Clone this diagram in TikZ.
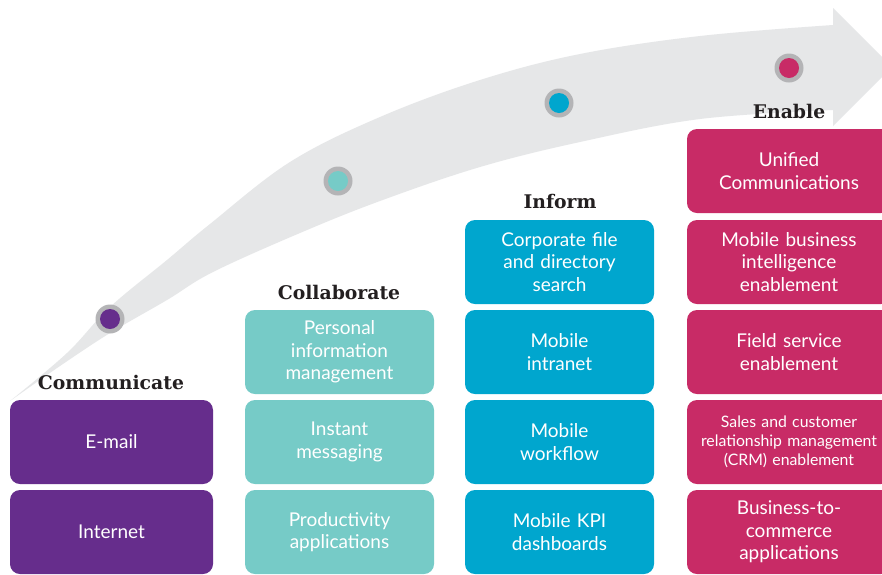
\documentclass[tikz,border=0pt]{standalone}
\usepackage{fontspec}
\setmainfont{Lato}
\newfontfamily\headfont{DejaVu Serif}
\definecolor{cpurple}{RGB}{102,45,140}
\definecolor{cteal}{RGB}{118,203,199}
\definecolor{cblue}{RGB}{0,166,206}
\definecolor{cmag}{RGB}{200,43,102}
\definecolor{bandgray}{RGB}{230,231,232}
\definecolor{ringgray}{RGB}{180,180,182}
\definecolor{headtxt}{RGB}{35,31,32}
\tikzset{
  box/.style={rounded corners=10pt, minimum height=84pt, inner sep=0pt,
    text=white, align=center, font=\fontsize{19}{22.5}\selectfont},
  c1/.style={box, fill=cpurple, minimum width=203pt, text width=200pt},
  c2/.style={box, fill=cteal, minimum width=189pt, text width=186pt},
  c3/.style={box, fill=cblue, minimum width=189pt, text width=186pt},
  c4/.style={box, fill=cmag, minimum width=204pt, text width=200pt},
  head/.style={anchor=base, text=headtxt, inner sep=0pt,
    font=\headfont\bfseries\fontsize{18.8}{22}\selectfont},
  ring/.style={circle, fill=ringgray, minimum size=29pt, inner sep=0pt},
  dotin/.style={circle, minimum size=20pt, inner sep=0pt}
}
\begin{document}
\begin{tikzpicture}[x=1pt,y=-1pt]
\useasboundingbox (0,0) rectangle (882,574);
\clip (0,0) rectangle (882,574);
\fill[white] (0,0) rectangle (882,574);
% band arrow
\fill[bandgray] plot[smooth, tension=0.6] coordinates {(10,401) (67,353) (110,307) (167,260) (210,224) (290,162) (380,117) (480,80) (580,54) (700,36) (833,25)}
  -- (833,8) -- (892,67) -- (833,126) -- (833,110)
  -- plot[smooth, tension=0.6] coordinates {(833,110) (700,119) (580,142) (480,167) (380,201) (300,233) (213,272) (167,300) (110,333) (60,366) (10,401)} -- cycle;
% dots
\node[ring] (r1) at (110,319) {};
\node[dotin, fill=cpurple] (d1) at (r1) {};
\node[ring] (r2) at (338,181) {};
\node[dotin, fill=cteal] (d2) at (r2) {};
\node[ring] (r3) at (559,103) {};
\node[dotin, fill=cblue] (d3) at (r3) {};
\node[ring] (r4) at (789,68) {};
\node[dotin, fill=cmag] (d4) at (r4) {};
% headings
\node[head] (h1) at (111,389) {Communicate};
\node[head] (h2) at (339,299) {Collaborate};
\node[head] (h3) at (560,208) {Inform};
\node[head] (h4) at (789,118) {Enable};
% column 1
\node[c1] (a1) at (111.5,442) {E-mail};
\node[c1] (a2) at (111.5,532) {Internet};
% column 2
\node[c2] (b1) at (339.5,352) {Personal\\information\\management};
\node[c2] (b2) at (339.5,442) {Instant\\messaging};
\node[c2] (b3) at (339.5,532) {Productivity\\applications};
% column 3
\node[c3] (e1) at (559.5,262) {Corporate file\\and directory\\search};
\node[c3] (e2) at (559.5,352) {Mobile\\intranet};
\node[c3] (e3) at (559.5,442) {Mobile\\workflow};
\node[c3] (e4) at (559.5,532) {Mobile KPI\\dashboards};
% column 4
\node[c4] (f1) at (789,171) {Unified\\Communications};
\node[c4] (f2) at (789,262) {Mobile business\\intelligence\\enablement};
\node[c4] (f3) at (789,352) {Field service\\enablement};
\node[c4, font=\fontsize{15.8}{19}\selectfont] (f4) at (789,442) {Sales and customer\\relationship management\\(CRM) enablement};
\node[c4] (f5) at (789,532) {Business-to-\\commerce\\applications};
\end{tikzpicture}
\end{document}
